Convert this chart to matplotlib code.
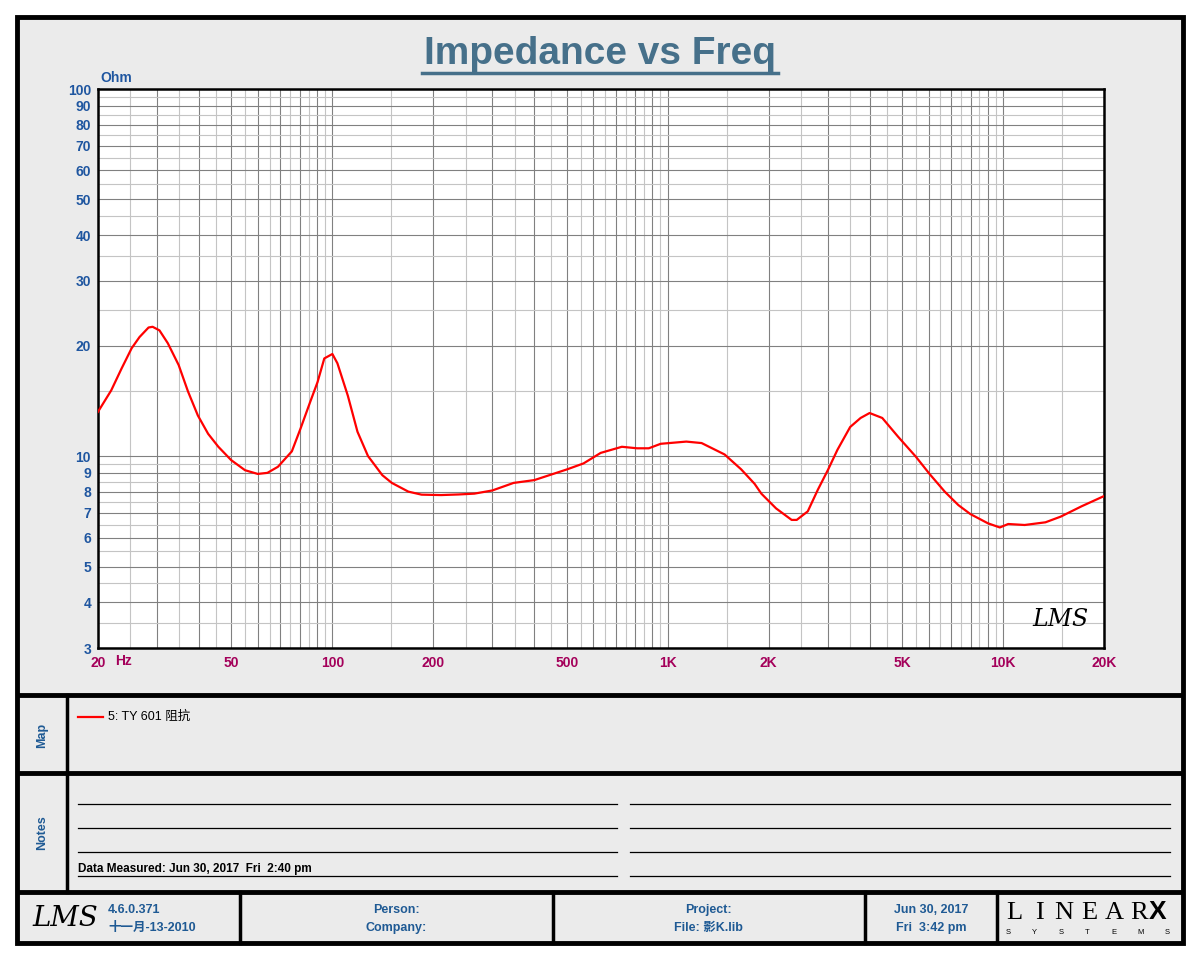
import numpy as np
import matplotlib
matplotlib.use("Agg")
import matplotlib.pyplot as plt
from matplotlib.patches import Rectangle
from matplotlib.ticker import FixedLocator, FuncFormatter, NullFormatter

plt.rcParams['font.family'] = ['Liberation Sans', 'Noto Sans CJK SC', 'DejaVu Sans']

# impedance curve (Hz, Ohm)
freq = [20.0, 21.9, 23.5, 25.2, 26.6, 28.3, 29.1, 30.5, 32.3, 34.8, 37.1,
        39.7, 42.6, 45.7, 49.9, 54.9, 59.9, 64.0, 68.8, 75.7, 80.4, 86.0, 90.3,
        94.6, 100.0, 103.5, 111.2, 118.8, 127.7, 140.9, 150.4, 168.5, 184.5, 211,
        238, 265, 300, 347, 400, 501, 561, 631, 730, 810, 878, 953, 1136, 1262,
        1478, 1656, 1816, 1902, 2105, 2342, 2425, 2616, 2804, 3007, 3207, 3500,
        3760, 4000, 4363, 4860, 5490, 6030, 6700, 7360, 7990, 9010, 9780, 10360,
        11600, 13380, 14860, 17160, 20000]
impedance = [13.2, 15.1, 17.3, 19.67, 21.1, 22.4, 22.5, 22.0, 20.3, 17.7, 15.0,
             12.9, 11.5, 10.6, 9.75, 9.15, 8.94, 9.0, 9.35, 10.3, 11.9, 14.1, 15.9,
             18.45, 18.97, 17.9, 14.6, 11.65, 10.0, 8.87, 8.45, 8.0, 7.85, 7.83,
             7.86, 7.9, 8.06, 8.45, 8.6, 9.2, 9.55, 10.2, 10.6, 10.5, 10.5, 10.8, 10.95, 10.85,
             10.1, 9.2, 8.4, 7.9, 7.2, 6.7, 6.7, 7.07, 8.1, 9.18, 10.4, 12.0,
             12.7, 13.1, 12.7, 11.3, 9.97, 8.95, 8.0, 7.35, 6.95, 6.56, 6.39, 6.53,
             6.49, 6.6, 6.84, 7.3, 7.78]

x_labels = {20: '20', 50: '50', 100: '100', 200: '200', 500: '500', 1000: '1K',
            2000: '2K', 5000: '5K', 10000: '10K', 20000: '20K'}
y_ticks = [3, 4, 5, 6, 7, 8, 9, 10, 20, 30, 40, 50, 60, 70, 80, 90, 100]

BLUE = '#1F56A0'
TXT_BLUE = '#1F5A94'
RED_TXT = '#A4005A'
GRAY_BG = '#EBEBEB'

fig = plt.figure(figsize=(12, 9.6), dpi=100)

# page frame in pixel coordinates
bg = fig.add_axes([0, 0, 1, 1])
bg.set_xlim(0, 1200)
bg.set_ylim(960, 0)
bg.axis('off')
bg.add_patch(Rectangle((17, 17), 1166, 926, facecolor=GRAY_BG, edgecolor='black', lw=3.5))
for yy in [695, 773, 892]:
    bg.plot([17, 1183], [yy, yy], color='black', lw=3.5, solid_capstyle='butt')
bg.plot([67, 67], [695, 892], color='black', lw=2.5)
for xx in [240, 553, 865, 997]:
    bg.plot([xx, xx], [892, 943], color='black', lw=2.5)

# title
bg.text(600, 54, 'Impedance vs Freq', ha='center', va='center', fontsize=28,
        fontweight='bold', color='#46708A')
bg.plot([422, 778], [73, 73], color='#46708A', lw=2.5)

# main chart
ax = fig.add_axes([98 / 1200, 1 - 648 / 960, 1006 / 1200, 559 / 960])
ax.set_xscale('log')
ax.set_yscale('log')
ax.set_xlim(20, 20000)
ax.set_ylim(3, 100)

xmaj = [m * d for d in [10, 100, 1000, 10000] for m in range(1, 10) if 20 <= m * d <= 20000]
xmin = [(m + 0.5) * d for d in [10, 100, 1000, 10000] for m in range(1, 10) if 20 <= (m + 0.5) * d <= 20000]
ymin = [(m + 0.5) * d for d in [1, 10] for m in range(1, 10) if 3 <= (m + 0.5) * d <= 100]

ax.xaxis.set_major_locator(FixedLocator(xmaj))
ax.xaxis.set_minor_locator(FixedLocator(xmin))
ax.yaxis.set_major_locator(FixedLocator(y_ticks))
ax.yaxis.set_minor_locator(FixedLocator(ymin))
ax.xaxis.set_major_formatter(FuncFormatter(lambda v, p: x_labels.get(int(round(v)), '')))
ax.yaxis.set_major_formatter(FuncFormatter(lambda v, p: '%d' % round(v)))
ax.xaxis.set_minor_formatter(NullFormatter())
ax.yaxis.set_minor_formatter(NullFormatter())

ax.grid(which='minor', color='#C4C4C4', lw=0.8)
ax.grid(which='major', color='#808080', lw=0.8)
ax.set_axisbelow(True)
ax.tick_params(which='both', length=0)
ax.tick_params(axis='x', pad=6, labelsize=10, labelcolor=RED_TXT)
ax.tick_params(axis='y', pad=5, labelsize=10, labelcolor=BLUE)
for lab in ax.get_xticklabels() + ax.get_yticklabels():
    lab.set_fontweight('bold')
for sp in ax.spines.values():
    sp.set_linewidth(1.8)
    sp.set_color('black')

ax.plot(freq, impedance, color='#FF0000', lw=1.6, zorder=5)
ax.text(0.985, 0.03, 'LMS', transform=ax.transAxes, ha='right', va='bottom',
        fontsize=17, fontstyle='italic', family='DejaVu Serif', color='black')

bg.text(100, 78, 'Ohm', ha='left', va='center', fontsize=10, fontweight='bold', color=BLUE)
bg.text(115, 661, 'Hz', ha='left', va='center', fontsize=10, fontweight='bold', color=RED_TXT)

# map panel
bg.text(42, 735, 'Map', rotation=90, ha='center', va='center', fontsize=9,
        fontweight='bold', color=TXT_BLUE)
bg.plot([78, 103], [717, 717], color='#FF0000', lw=1.6)
bg.text(108, 717, '5: TY 601 阻抗', ha='left', va='center', fontsize=9, color='black')

# notes panel
bg.text(42, 833, 'Notes', rotation=90, ha='center', va='center', fontsize=9,
        fontweight='bold', color=TXT_BLUE)
for yy in [804, 828, 852, 876]:
    bg.plot([78, 617], [yy, yy], color='black', lw=0.9)
    bg.plot([630, 1170], [yy, yy], color='black', lw=0.9)
bg.text(78, 875, 'Data Measured: Jun 30, 2017  Fri  2:40 pm', ha='left', va='bottom',
        fontsize=8.5, fontweight='bold', color='black')

# footer
bg.text(65, 918, 'LMS', ha='center', va='center', fontsize=20, fontstyle='italic',
        family='DejaVu Serif', color='black')
bg.text(108, 910, '4.6.0.371', ha='left', va='center', fontsize=9, fontweight='bold', color=TXT_BLUE)
bg.text(108, 928, '十一月-13-2010', ha='left', va='center', fontsize=9, fontweight='bold', color=TXT_BLUE)
bg.text(396, 910, 'Person:', ha='center', va='center', fontsize=9, fontweight='bold', color=TXT_BLUE)
bg.text(396, 928, 'Company:', ha='center', va='center', fontsize=9, fontweight='bold', color=TXT_BLUE)
bg.text(708, 910, 'Project:', ha='center', va='center', fontsize=9, fontweight='bold', color=TXT_BLUE)
bg.text(708, 928, 'File: 影K.lib', ha='center', va='center', fontsize=9, fontweight='bold', color=TXT_BLUE)
bg.text(931, 910, 'Jun 30, 2017', ha='center', va='center', fontsize=9, fontweight='bold', color=TXT_BLUE)
bg.text(931, 928, 'Fri  3:42 pm', ha='center', va='center', fontsize=9, fontweight='bold', color=TXT_BLUE)

# LinearX logo
for i, ch in enumerate('LINEAR'):
    bg.text(1014 + i * 25, 913, ch, ha='center', va='center', fontsize=19,
            family='Liberation Serif', color='black')
bg.text(1158, 912, 'X', ha='center', va='center', fontsize=19, fontweight='bold', color='black')
for i, ch in enumerate('SYSTEMS'):
    bg.text(1008 + i * 26.5, 932, ch, ha='center', va='center', fontsize=5.5, color='black')

fig.savefig('out.png', dpi=100, facecolor='white')
